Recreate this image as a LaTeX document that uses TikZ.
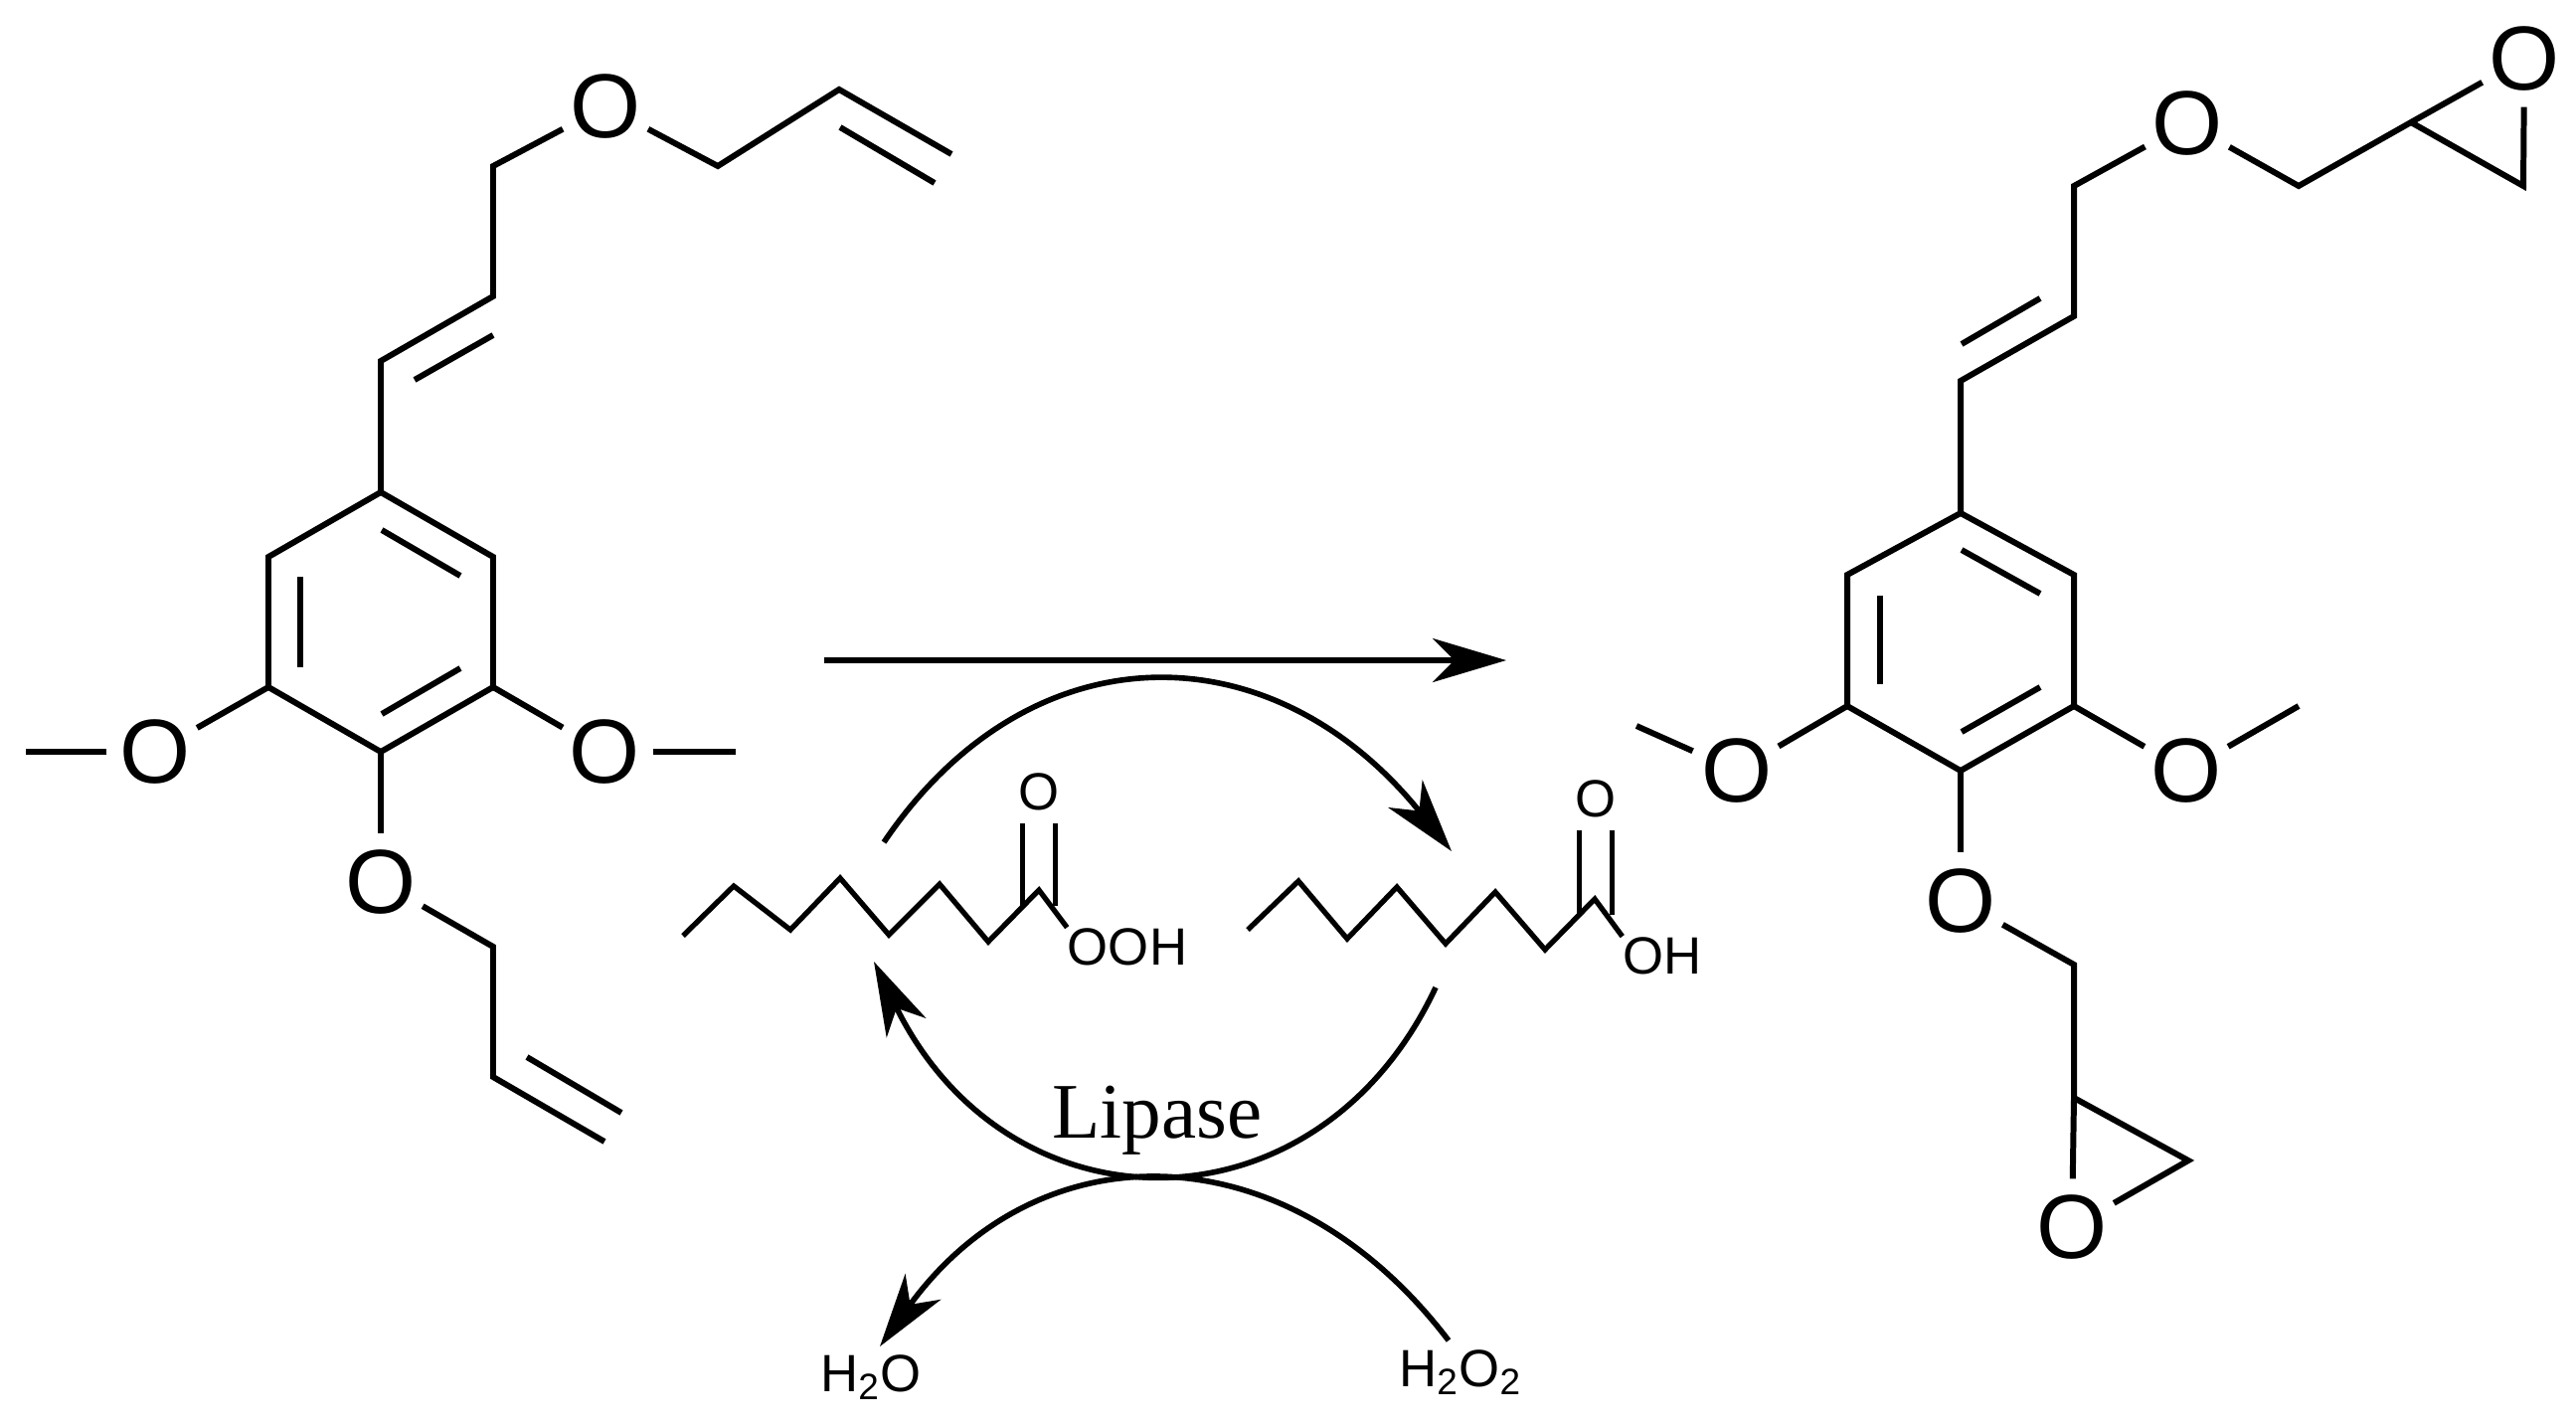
\documentclass[tikz,border=0pt]{standalone}
\usepackage{fontspec}
\setmainfont{Liberation Sans}
\newfontfamily\serifface{Liberation Serif}
\usetikzlibrary{arrows.meta}
\tikzset{
    bond/.style={line width=1.7pt},
    atom/.style={circle,inner sep=0pt,minimum size=0.92cm,font=\fontsize{26}{26}\selectfont},
    smallatom/.style={circle,inner sep=0pt,minimum size=0.62cm,font=\fontsize{15}{15}\selectfont},
    group/.style={inner sep=0pt,font=\fontsize{15}{15}\selectfont},
    carbonyl/.style={line width=1.5pt,double,double distance=0.28cm},
    react/.style={line width=1.6pt,-{Stealth[length=0.74cm,width=0.44cm,inset=0.22cm]}},
}
\begin{document}
\begin{tikzpicture}[x=0.01cm,y=-0.01cm]
    \useasboundingbox (0,0) rectangle (2591,1433);
    % left molecule
    \node [atom] (aotop) at (609,107) {O};
    \node [atom] (aoleft) at (156,756) {O};
    \node [atom] (aoright) at (608,756) {O};
    \node [atom] (aobot) at (383,887) {O};
    \coordinate (amel) at (26,756);
    \coordinate (amer) at (740,756);
    \coordinate (a1) at (383,495);
    \coordinate (a2) at (496,560);
    \coordinate (a3) at (496,691);
    \coordinate (a4) at (383,756);
    \coordinate (a5) at (270,691);
    \coordinate (a6) at (270,560);
    \coordinate (av1) at (383,363);
    \coordinate (av2) at (496,298);
    \coordinate (av3) at (496,167);
    \coordinate (at1) at (722,167);
    \coordinate (at2) at (844,90);
    \coordinate (at3) at (957,155);
    \coordinate (ab1) at (496,952);
    \coordinate (ab2) at (496,1083);
    \coordinate (ab3) at (608,1148);
    \draw [bond] (a1) -- (a2) -- (a3) -- (a4) -- (a5) -- (a6) -- cycle;
    \draw [bond] (a1) -- (av1) -- (av2) -- (av3) -- (aotop);
    \draw [bond] (aotop) -- (at1) -- (at2) -- (at3);
    \draw [bond] (a5) -- (aoleft);
    \draw [bond] (aoleft) -- (amel);
    \draw [bond] (a3) -- (aoright);
    \draw [bond] (aoright) -- (amer);
    \draw [bond] (a4) -- (aobot);
    \draw [bond] (aobot) -- (ab1) -- (ab2) -- (ab3);
    % inner lines of the left double bonds
    \coordinate (ai1) at (384,533);
    \coordinate (ai2) at (463,579);
    \coordinate (ai3) at (302,580);
    \coordinate (ai4) at (302,671);
    \coordinate (ai5) at (384,718);
    \coordinate (ai6) at (463,672);
    \coordinate (ai7) at (417,382);
    \coordinate (ai8) at (496,337);
    \coordinate (ai9) at (845,128);
    \coordinate (ai10) at (940,184);
    \coordinate (ai11) at (530,1063);
    \coordinate (ai12) at (625,1119);
    \draw [bond] (ai1) -- (ai2);
    \draw [bond] (ai3) -- (ai4);
    \draw [bond] (ai5) -- (ai6);
    \draw [bond] (ai7) -- (ai8);
    \draw [bond] (ai9) -- (ai10);
    \draw [bond] (ai11) -- (ai12);
    % right molecule
    \node [atom] (botop) at (2200,124) {O};
    \node [atom] (boep) at (2539,59) {O};
    \node [atom] (boleft) at (1747,775) {O};
    \node [atom] (boright) at (2199,775) {O};
    \node [atom] (bobot) at (1972,906) {O};
    \node [atom] (boep2) at (2084,1234) {O};
    \coordinate (bmel) at (1646,730);
    \coordinate (bmer) at (2312,710);
    \coordinate (b1) at (1972,516);
    \coordinate (b2) at (2086,578);
    \coordinate (b3) at (2086,710);
    \coordinate (b4) at (1972,775);
    \coordinate (b5) at (1858,710);
    \coordinate (b6) at (1858,578);
    \coordinate (bv1) at (1972,383);
    \coordinate (bv2) at (2086,318);
    \coordinate (bv3) at (2086,187);
    \coordinate (bt1) at (2312,187);
    \coordinate (bt2) at (2425,123);
    \coordinate (bt3) at (2538,187);
    \coordinate (bb1) at (2086,970);
    \coordinate (bb2) at (2086,1104);
    \coordinate (bb3) at (2201,1167);
    \draw [bond] (b1) -- (b2) -- (b3) -- (b4) -- (b5) -- (b6) -- cycle;
    \draw [bond] (b1) -- (bv1) -- (bv2) -- (bv3) -- (botop);
    \draw [bond] (botop) -- (bt1) -- (bt2) -- (boep);
    \draw [bond] (bt2) -- (bt3) -- (boep);
    \draw [bond] (b5) -- (boleft);
    \draw [bond] (boleft) -- (bmel);
    \draw [bond] (b3) -- (boright);
    \draw [bond] (boright) -- (bmer);
    \draw [bond] (b4) -- (bobot);
    \draw [bond] (bobot) -- (bb1) -- (bb2) -- (boep2);
    \draw [bond] (bb2) -- (bb3) -- (boep2);
    % inner lines of the right double bonds
    \coordinate (bi1) at (1973,553);
    \coordinate (bi2) at (2052,597);
    \coordinate (bi3) at (1891,599);
    \coordinate (bi4) at (1891,688);
    \coordinate (bi5) at (1973,736);
    \coordinate (bi6) at (2052,691);
    \coordinate (bi7) at (1973,346);
    \coordinate (bi8) at (2052,300);
    \draw [bond] (bi1) -- (bi2);
    \draw [bond] (bi3) -- (bi4);
    \draw [bond] (bi5) -- (bi6);
    \draw [bond] (bi7) -- (bi8);
    % peracid
    \node [smallatom] (po) at (1045,796) {O};
    \node [group] (ooh) at (1134,952) {OOH};
    \coordinate (pfoot) at (1045,911);
    \coordinate (p1) at (687,941);
    \coordinate (p2) at (738,891);
    \coordinate (p3) at (795,935);
    \coordinate (p4) at (845,883);
    \coordinate (p5) at (894,940);
    \coordinate (p6) at (945,889);
    \coordinate (p7) at (994,947);
    \coordinate (p8) at (1045,895);
    \draw [carbonyl] (po) -- (pfoot);
    \draw [bond,line width=1.5pt] (p1) -- (p2) -- (p3) -- (p4) -- (p5) -- (p6) -- (p7) -- (p8) -- (ooh.north west);
    % acid
    \node [smallatom] (qo) at (1605,803) {O};
    \node [group] (oh) at (1672,961) {OH};
    \coordinate (qfoot) at (1605,920);
    \coordinate (q1) at (1255,935);
    \coordinate (q2) at (1306,886);
    \coordinate (q3) at (1355,944);
    \coordinate (q4) at (1405,892);
    \coordinate (q5) at (1454,949);
    \coordinate (q6) at (1504,897);
    \coordinate (q7) at (1554,955);
    \coordinate (q8) at (1604,904);
    \draw [carbonyl] (qo) -- (qfoot);
    \draw [bond,line width=1.5pt] (q1) -- (q2) -- (q3) -- (q4) -- (q5) -- (q6) -- (q7) -- (q8) -- (oh.north west);
    % arrows
    \coordinate (mainstart) at (829,664);
    \coordinate (mainend) at (1515,664);
    \coordinate (topstart) at (889,847);
    \coordinate (topend) at (1460,856);
    \coordinate (lowstart) at (1444,993);
    \coordinate (lowend) at (879,967);
    \draw [react] (mainstart) -- (mainend);
    \draw [react] (topstart) .. controls (1035,631) and (1279,631) .. (topend);
    \draw [react] (lowstart) .. controls (1326,1245) and (1015,1245) .. (lowend);
    \node [font=\serifface\fontsize{22.5}{22.5}\selectfont,anchor=base] (lipase) at (1164,1144) {Lipase};
    \node [group,anchor=base] (water) at (876,1399) {H\textsubscript{2}O};
    \node [group,anchor=base] (perox) at (1469,1394) {H\textsubscript{2}O\textsubscript{2}};
    \coordinate (botstart) at (1457,1348);
    \coordinate (botend) at (885,1354);
    \draw [react] (botstart) .. controls (1294,1134) and (1044,1134) .. (botend);
\end{tikzpicture}
\end{document}
